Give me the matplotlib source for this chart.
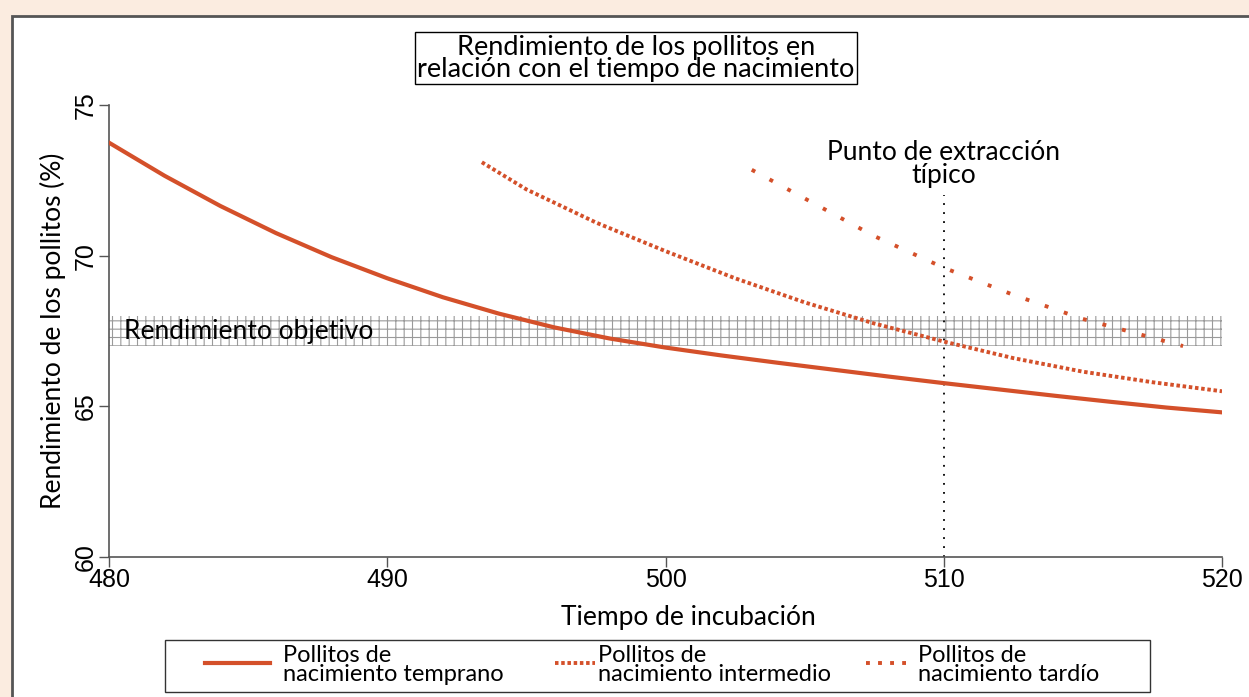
import matplotlib.pyplot as plt
from matplotlib.patches import Rectangle
from matplotlib.lines import Line2D

# Datos
early_x = [480, 482, 484, 486, 488, 490, 492, 494, 496, 498, 500,
           502, 504, 506, 508, 510, 512, 514, 516, 518, 520]
early_y = [73.75, 72.65, 71.65, 70.75, 69.95, 69.25, 68.62, 68.08, 67.62, 67.25, 66.95,
           66.69, 66.45, 66.22, 65.99, 65.77, 65.56, 65.35, 65.15, 64.96, 64.8]

mid_x = [493.4, 495, 497.5, 500, 502.5, 505, 507.5, 510, 512.5, 515, 517.5, 520]
mid_y = [73.1, 72.2, 71.1, 70.15, 69.25, 68.45, 67.75, 67.15, 66.6, 66.15, 65.8, 65.5]

late_x = [503.1, 505, 507.5, 510, 512.5, 515, 518.6]
late_y = [72.85, 71.9, 70.65, 69.6, 68.7, 67.9, 67.0]

target_low, target_high = 67.0, 68.0
extraction_x = 510
extraction_top = 72.0

x_ticks = [480, 490, 500, 510, 520]
y_ticks = [60, 65, 70, 75]

labels = ["Pollitos de\nnacimiento temprano",
          "Pollitos de\nnacimiento intermedio",
          "Pollitos de\nnacimiento tardío"]

ORANGE = "#d4502a"
BEIGE = "#fbece0"
W, H = 1249, 697

plt.rcParams["font.family"] = ["Lato", "DejaVu Sans"]
plt.rcParams["hatch.linewidth"] = 0.8

fig = plt.figure(figsize=(12.49, 6.97), dpi=100, facecolor=BEIGE)

# panel blanco con borde arriba e izquierda
fig.patches.append(Rectangle((12 / W, -0.1), 1.2, 1.1 - 16 / H, transform=fig.transFigure,
                             facecolor="white", edgecolor="#555555", linewidth=2, zorder=-5))

ax = fig.add_axes([109 / W, 1 - 557 / H, 1113 / W, 452 / H])
ax.set_facecolor("none")
ax.set_zorder(2)

# banda de rendimiento objetivo
ax.fill_between([480, 520], target_low, target_high, facecolor="white",
                edgecolor="#9a9a9a", hatch="++", linewidth=0, zorder=1)
ax.text(480.55, (target_low + target_high) / 2, "Rendimiento objetivo", fontsize=19,
        va="center", ha="left", zorder=2)

styles = [dict(lw=3, linestyle="-"),
          dict(lw=2.8, linestyle=(0, (0.9, 0.7))),
          dict(lw=2.8, linestyle=(0, (1, 4.2)))]

ax.plot(early_x, early_y, color=ORANGE, zorder=3, **styles[0])
ax.plot(mid_x, mid_y, color=ORANGE, zorder=3, **styles[1])
ax.plot(late_x, late_y, color=ORANGE, zorder=3, **styles[2])

# punto de extraccion
ax.plot([extraction_x, extraction_x], [60, extraction_top], color="black", lw=1.3,
        linestyle=(0, (1, 4)), zorder=2)
ax.text(extraction_x, extraction_top + 0.25, "Punto de extracción\ntípico", fontsize=19,
        ha="center", va="bottom", linespacing=0.9)

ax.set_xlim(480, 520)
ax.set_ylim(60, 75)
ax.set_xticks(x_ticks)
ax.set_yticks(y_ticks)
ax.set_xticklabels([str(t) for t in x_ticks], family="Liberation Sans", fontsize=18)
ax.set_yticklabels([str(t) for t in y_ticks], family="Liberation Sans", fontsize=18,
                   rotation=90, va="center")
ax.tick_params(direction="out", length=7, width=1, color="#555555", pad=1)
for s in ["top", "right"]:
    ax.spines[s].set_visible(False)
for s in ["left", "bottom"]:
    ax.spines[s].set_color("#555555")
    ax.spines[s].set_linewidth(1.2)

ax.set_ylabel("Rendimiento de los pollitos (%)", fontsize=19, labelpad=6)
fig.text(688 / W, 1 - 618 / H, "Tiempo de incubación", fontsize=19, ha="center", va="center")

fig.text(636 / W, 1 - 58 / H,
         "Rendimiento de los pollitos en\nrelación con el tiempo de nacimiento",
         fontsize=19.5, ha="center", va="center", linespacing=0.85,
         bbox=dict(boxstyle="square,pad=0.1", facecolor="white", edgecolor="black", linewidth=1))

# leyenda dibujada a mano (las muestras tienen largos distintos)
fig.patches.append(Rectangle((165 / W, 1 - 692 / H), 985 / W, 52 / H, transform=fig.transFigure,
                             facecolor="white", edgecolor="#333333", linewidth=1, zorder=3))
handle_spans = [(205, 270), (555, 595), (866, 906)]
handle_styles = [styles[0], styles[1], dict(lw=2.8, linestyle=(0, (1, 2.1)))]
text_x = [283, 598, 918]
legend_y = 1 - 663 / H
for (x0, x1), tx, lab, st in zip(handle_spans, text_x, labels, handle_styles):
    fig.add_artist(Line2D([x0 / W, x1 / W], [legend_y, legend_y], transform=fig.transFigure,
                          color=ORANGE, zorder=4, **st))
    fig.text(tx / W, 1 - 665 / H, lab, fontsize=17, ha="left", va="center",
             linespacing=0.85, zorder=4)

fig.savefig("out.png", dpi=100, facecolor=BEIGE)
